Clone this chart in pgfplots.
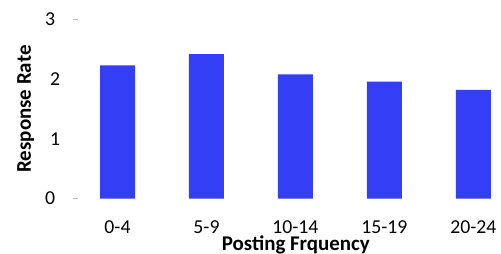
\documentclass[border=0pt]{standalone}
\usepackage{fontspec}
\setmainfont{Carlito}
\usepackage{pgfplots}
\pgfplotsset{compat=1.18}
\definecolor{barblue}{RGB}{52,62,245}
\begin{document}
\begin{tikzpicture}
\begin{axis}[
  scale only axis,
  width=423bp, height=179bp,
  xmin=-0.444, xmax=4.31,
  ymin=0, ymax=3,
  axis line style={draw=none},
  xtick={0,1,2,3,4},
  xticklabels={0-4,5-9,10-14,15-19,20-24},
  ytick={0,3},
  extra y ticks={1,2},
  extra y tick style={major tick length=0pt},
  tick pos=left,
  tick align=outside,
  major tick length=5bp,
  x tick style={draw=none},
  y tick style={draw=gray!55, line width=1pt},
  /pgf/number format/assume math mode=true,
  tick label style={font=\fontsize{19.8}{22}\selectfont},
  xticklabel style={anchor=base, yshift=-29.5bp},
  yticklabel style={anchor=east, xshift=-14.3bp},
  label style={font=\fontsize{21}{24}\selectfont\bfseries},
  xlabel={Posting Frquency},
  ylabel={Response Rate},
  xlabel style={at={(rel axis cs:0.515,0)}, anchor=base, yshift=-51.5bp},
  ylabel style={at={(rel axis cs:0,0.5)}, anchor=base, yshift=47bp},
]
\addplot[ybar, bar width=35bp, fill=barblue, draw=none] coordinates {
  (0,2.23) (1,2.42) (2,2.08) (3,1.96) (4,1.82)
};
\end{axis}
\pgfresetboundingbox
\path[use as bounding box] (-78bp,-55.5bp) rectangle (423bp,198.5bp);
\end{tikzpicture}
\end{document}
